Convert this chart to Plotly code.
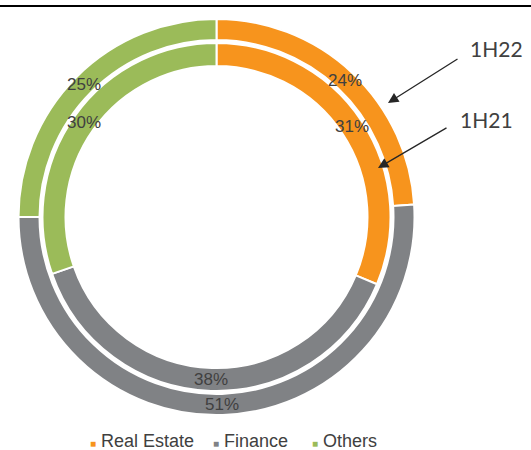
import math
import plotly.graph_objects as go

# Loan book split by industry for two half-year periods
categories = ["Real Estate", "Finance", "Others"]
share_1h22 = [24, 51, 25]   # outer ring
share_1h21 = [31, 38, 30]   # inner ring
colors = ["#F7941D", "#808285", "#9BBB59"]

TEXT_COLOR = "#404040"
LABEL_FONT = "Liberation Sans, Arial, sans-serif"
W, H = 531, 450

# Ring geometry in pixels (centre and radii)
cx, cy = 216.5, 217.0
outer_R, outer_r = 198.0, 177.0
inner_R, inner_r = 174.0, 151.0


def domain(R):
    return dict(
        x=[(cx - R) / W, (cx + R) / W],
        y=[1 - (cy + R) / H, 1 - (cy - R) / H],
    )


def ring(values, R, r, name):
    return go.Pie(
        labels=categories,
        values=values,
        name=name,
        hole=r / R,
        domain=domain(R),
        sort=False,
        direction="clockwise",
        rotation=0,
        marker=dict(colors=colors, line=dict(color="white", width=2)),
        textinfo="none",
        hoverinfo="skip",
        showlegend=False,
    )


def slice_labels(values, R, r):
    """Horizontal percentage labels at the middle of each slice, mid-ring."""
    total = sum(values)
    rm = (R + r) / 2
    out, cum = [], 0
    for v in values:
        ang = math.radians((cum + v / 2) / total * 360)
        cum += v
        px = cx + rm * math.sin(ang)
        py = cy - rm * math.cos(ang)
        out.append(dict(
            text=f"{v}%", x=px / W, y=1 - py / H, xref="paper", yref="paper",
            xanchor="center", yanchor="middle", showarrow=False,
            font=dict(family=LABEL_FONT, size=17, color=TEXT_COLOR),
        ))
    return out


fig = go.Figure()
fig.add_trace(ring(share_1h22, outer_R, outer_r, "1H22"))
fig.add_trace(ring(share_1h21, inner_R, inner_r, "1H21"))

annotations = []
annotations += slice_labels(share_1h22, outer_R, outer_r)
annotations += slice_labels(share_1h21, inner_R, inner_r)

# Period labels with arrows pointing at each ring
period_labels = [
    ("1H22", (496, 48), (388, 103), (459, 58)),
    ("1H21", (486, 120), (378, 168), (448, 127)),
]
for text, (tx, ty), (hx, hy), (tlx, tly) in period_labels:
    annotations.append(dict(
        text=text, x=tx / W, y=1 - ty / H, xref="paper", yref="paper",
        xanchor="center", yanchor="middle", showarrow=False,
        font=dict(family="Lato, sans-serif", size=21, color=TEXT_COLOR),
    ))
    annotations.append(dict(
        text="", x=hx / W, y=1 - hy / H, xref="paper", yref="paper",
        showarrow=True, ax=tlx - hx, ay=tly - hy,
        arrowhead=2, arrowsize=1.6, arrowwidth=1.3, arrowcolor="#262626",
    ))

# Legend row built from the category list
legend_x = [88, 211, 310]
for cat, col, lx in zip(categories, colors, legend_x):
    annotations.append(dict(
        text=f"<span style='color:{col};font-size:10px'>■</span> {cat}",
        x=lx / W, y=1 - 441 / H, xref="paper", yref="paper",
        xanchor="left", yanchor="middle", showarrow=False,
        font=dict(family=LABEL_FONT, size=18, color=TEXT_COLOR),
    ))

fig.update_layout(
    width=W, height=H,
    margin=dict(l=0, r=0, t=0, b=0),
    paper_bgcolor="white",
    plot_bgcolor="white",
    annotations=annotations,
    shapes=[dict(
        type="line", xref="paper", yref="paper",
        x0=0, x1=1, y0=1 - 6 / H, y1=1 - 6 / H,
        line=dict(color="black", width=2),
    )],
)

fig.write_html("out.html")
